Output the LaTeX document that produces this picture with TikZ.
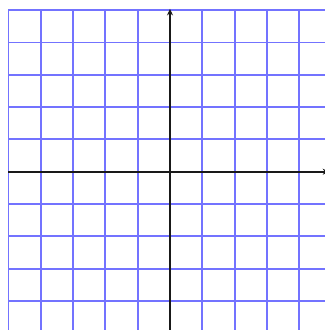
\documentclass[tikz,border=0pt]{standalone}
\usetikzlibrary{arrows.meta}
\begin{document}
\begin{tikzpicture}[x=32.3pt,y=32.3pt,
  gridline/.style={draw={rgb,255:red,115;green,115;blue,255},line width=1.9pt},
  axisline/.style={draw=black!90,line width=2pt,-{Stealth[length=6.5pt,width=6pt]}}]
\useasboundingbox (-5.263,-4.901) rectangle (4.799,5.316);
\clip (-5.263,-4.901) rectangle (4.799,5.316);
\fill[white] (-5.263,-4.901) rectangle (4.799,5.316);
\foreach \i in {-5,...,5} {
  \draw[gridline] (\i,-5.2) -- (\i,5);
  \draw[gridline] (-5,\i) -- (5.2,\i);
}
\draw[axisline] (-5,0) -- (4.93,0);
\draw[axisline] (0,-5.2) -- (0,5.04);
\end{tikzpicture}
\end{document}
